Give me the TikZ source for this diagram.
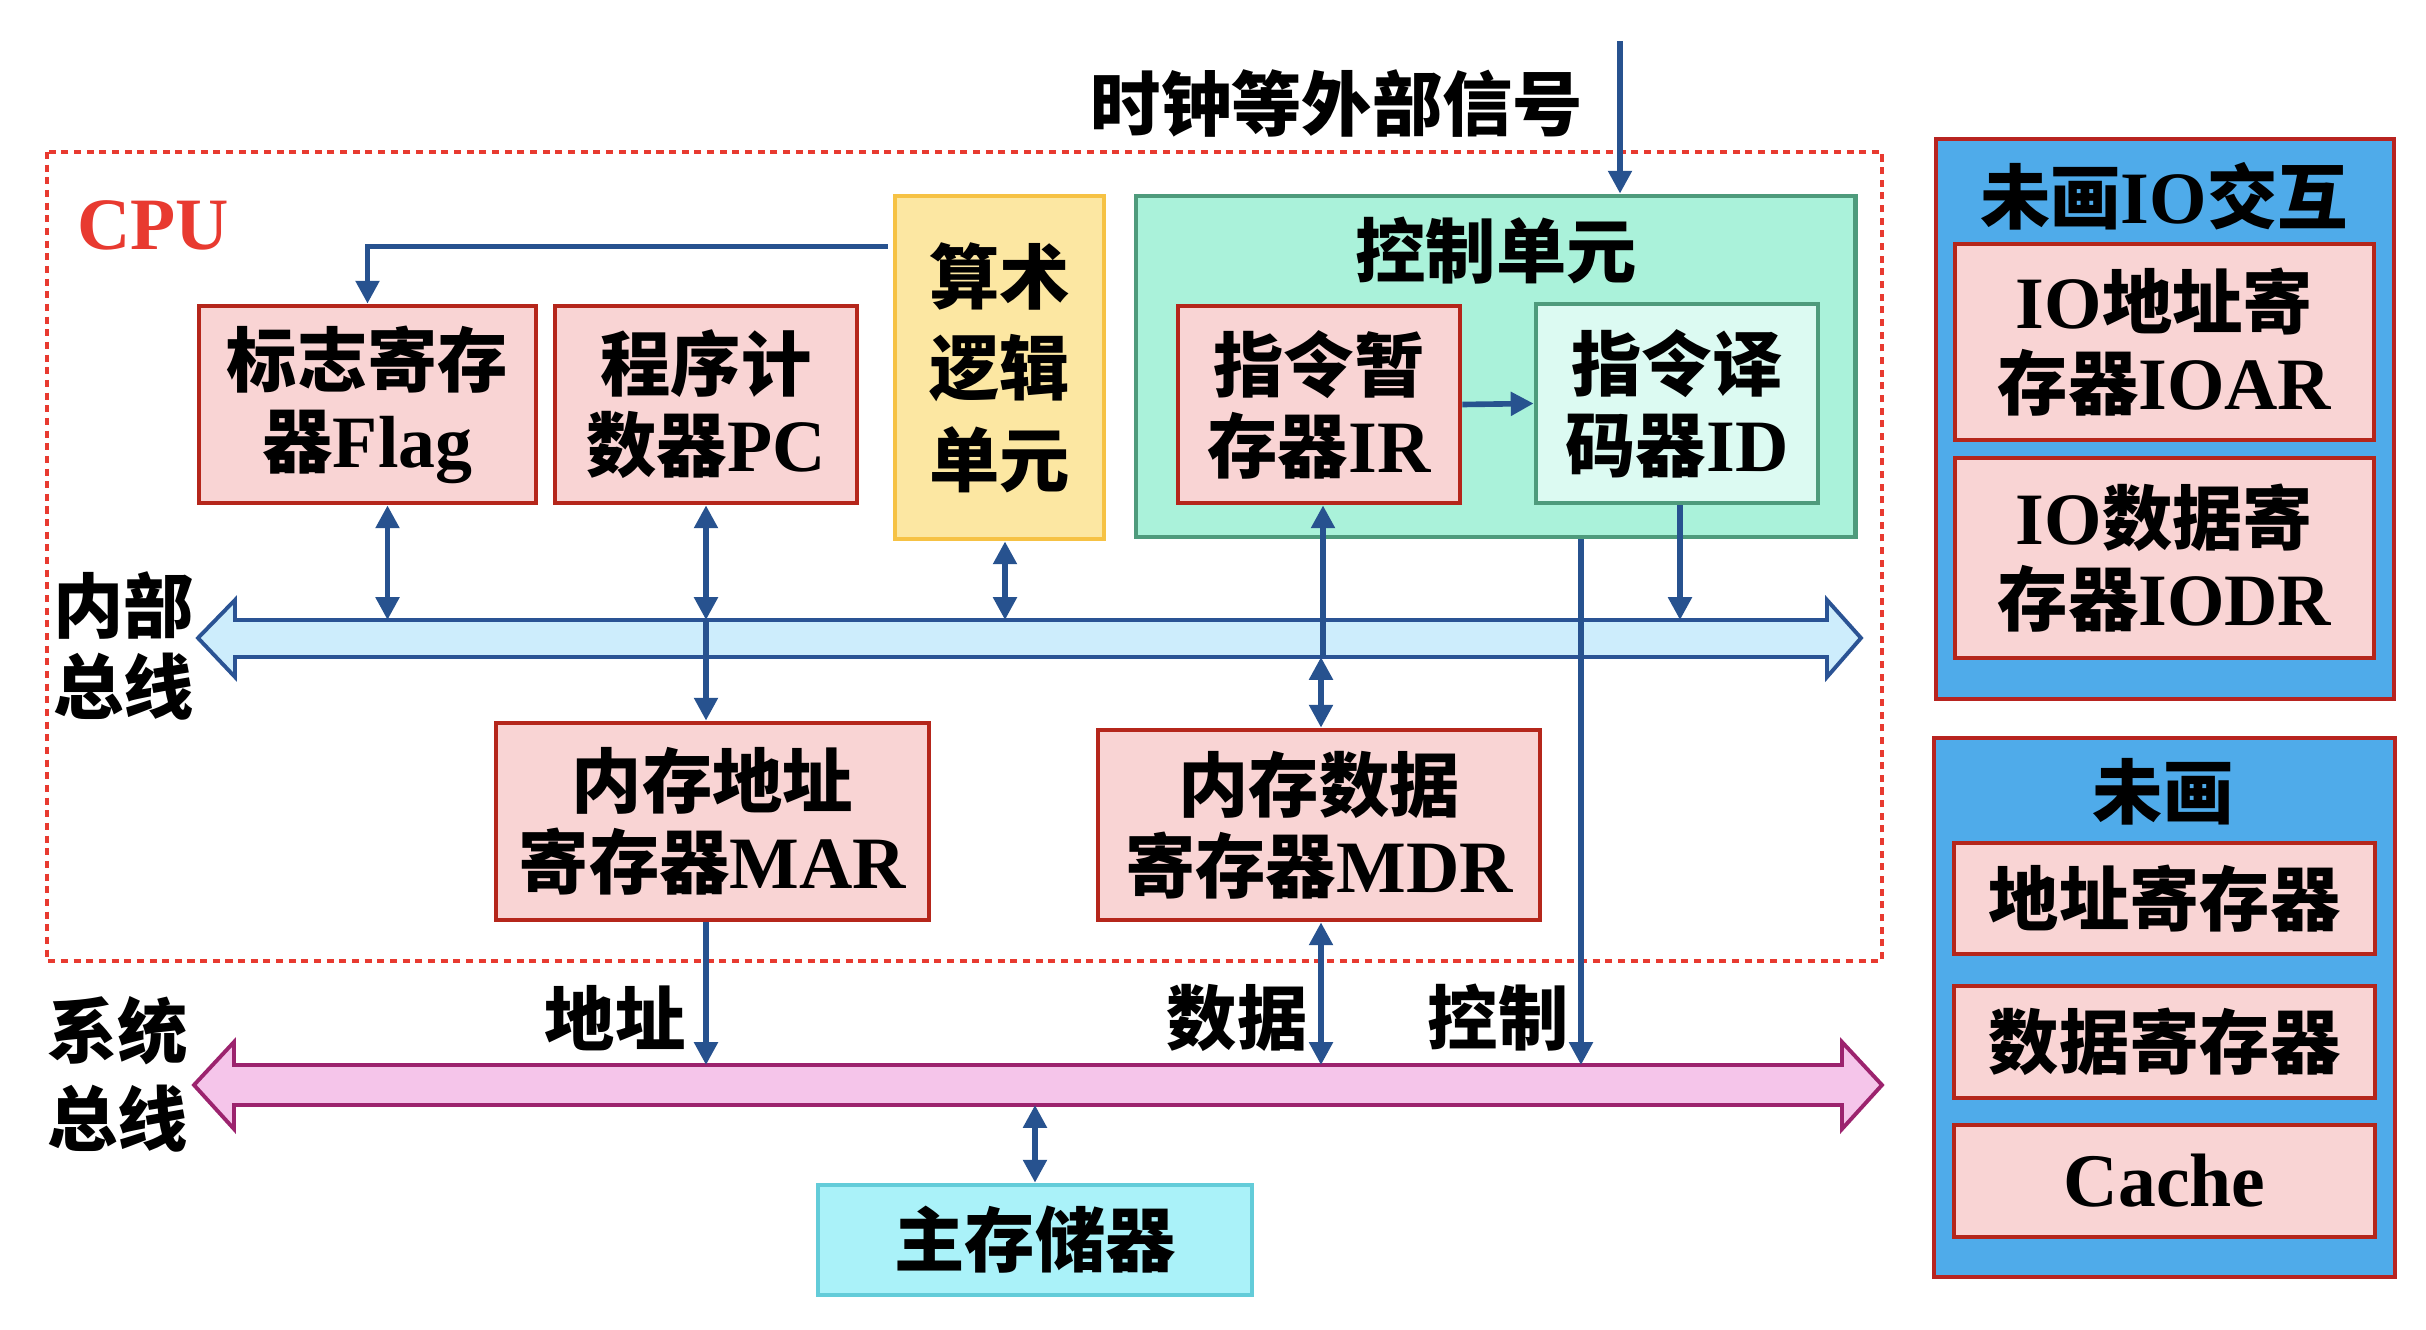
\documentclass[tikz,border=0pt]{standalone}
\usepackage{fontspec}
\setmainfont{Liberation Serif}[Scale=1.05]
\newfontfamily\cjk{Noto Sans CJK SC}
\usetikzlibrary{arrows.meta,calc}
\newcommand\zh[1]{{\cjk #1}}
\newcommand\txtfont{\fontsize{20pt}{23pt}\selectfont\bfseries}
\definecolor{boxred}{HTML}{B5261B}
\definecolor{pinkfill}{HTML}{F9D4D4}
\definecolor{alufill}{HTML}{FCE7A2}
\definecolor{aluborder}{HTML}{F6C244}
\definecolor{ctrlfill}{HTML}{AAF2DA}
\definecolor{ctrlborder}{HTML}{4E9B7C}
\definecolor{idfill}{HTML}{DCFAF2}
\definecolor{ibfill}{HTML}{CDEDFC}
\definecolor{busblue}{HTML}{2A5394}
\definecolor{sbfill}{HTML}{F5C5EA}
\definecolor{sbborder}{HTML}{9C236E}
\definecolor{memfill}{HTML}{AAF2F9}
\definecolor{memborder}{HTML}{63CCD9}
\definecolor{panelfill}{HTML}{4FABEA}
\definecolor{panelborder}{HTML}{B82420}
\definecolor{arrblue}{HTML}{27528F}
\definecolor{cpured}{HTML}{E83A30}
\begin{document}
\begin{tikzpicture}[x=0.01cm,y=-0.01cm,
  base/.style={inner sep=0pt, align=center, font=\txtfont},
  regbox/.style={base, draw=boxred, fill=pinkfill, line width=1.3pt},
  lbl/.style={base, text=black},
  arr/.style={draw=arrblue, line width=1.6pt, -{Triangle[length=6.5pt,width=6.5pt]}},
  arrtwo/.style={draw=arrblue, line width=1.6pt, {Triangle[length=6.5pt,width=6.5pt]}-{Triangle[length=6.5pt,width=6.5pt]}}
]
\useasboundingbox[fill=white] (0,0) rectangle (2426,1330);

% CPU dotted frame
\draw[cpured, line width=1.3pt, dash pattern=on 2pt off 1.6pt] (47,152) rectangle (1882,961);
\node[base, text=cpured, font=\fontsize{20pt}{24pt}\selectfont\bfseries] (cpu) at (153,225) {CPU};

% internal bus
\draw[busblue, line width=1.1pt, fill=ibfill] (198,638) -- (235,600) -- (235,620) -- (1827,620) -- (1827,600) -- (1861,638) -- (1827,677) -- (1827,657) -- (235,657) -- (235,677) -- cycle;
\coordinate (ibT) at (0,620);
\coordinate (ibB) at (0,657);
% system bus
\draw[sbborder, line width=1.1pt, fill=sbfill] (194,1085) -- (234,1042) -- (234,1065) -- (1842,1065) -- (1842,1042) -- (1882,1085) -- (1842,1129) -- (1842,1105) -- (234,1105) -- (234,1129) -- cycle;
\coordinate (sbT) at (0,1065);
\coordinate (sbB) at (0,1105);

% boxes
\node[regbox, minimum width=3.37cm, minimum height=1.97cm] (flag) at (367.5,404.5) {\zh{标志寄存}\\\zh{器}Flag};
\node[regbox, minimum width=3.02cm, minimum height=1.97cm] (pc) at (706,404.5) {\zh{程序计}\\\zh{数器}PC};
\node[base, draw=aluborder, fill=alufill, line width=1.3pt, minimum width=2.09cm, minimum height=3.43cm, font=\fontsize{20pt}{26pt}\selectfont\bfseries] (alu) at (999.5,367.5) {\zh{算术}\\\zh{逻辑}\\\zh{单元}};
\node[base, draw=ctrlborder, fill=ctrlfill, line width=1.3pt, minimum width=7.19cm, minimum height=3.41cm] (ctrl) at (1495.5,366.5) {};
\node[lbl] (ctrltitle) at (1496,251) {\zh{控制单元}};
\node[regbox, minimum width=2.82cm, minimum height=1.97cm] (ir) at (1319,404.5) {\zh{指令暂}\\\zh{存器}IR};
\node[base, draw=ctrlborder, fill=idfill, line width=1.3pt, minimum width=2.82cm, minimum height=1.99cm] (id) at (1677,403.5) {\zh{指令译}\\\zh{码器}ID};
\node[regbox, minimum width=4.33cm, minimum height=1.97cm] (mar) at (712.5,821.5) {\zh{内存地址}\\\zh{寄存器}MAR};
\node[regbox, minimum width=4.42cm, minimum height=1.90cm] (mdr) at (1319,825) {\zh{内存数据}\\\zh{寄存器}MDR};
\node[base, draw=memborder, fill=memfill, line width=1.3pt, minimum width=4.34cm, minimum height=1.10cm] (mem) at (1035,1240) {\zh{主存储器}};

% right panels
\node[base, draw=panelborder, fill=panelfill, line width=1.3pt, minimum width=4.58cm, minimum height=5.60cm] (panelA) at (2165,419) {};
\node[lbl] (panelAtitle) at (2164,196) {\zh{未画}IO\zh{交互}};
\node[regbox, minimum width=4.19cm, minimum height=1.96cm] (ioar) at (2164.5,342) {IO\zh{地址寄}\\\zh{存器}IOAR};
\node[regbox, minimum width=4.19cm, minimum height=2.00cm] (iodr) at (2164.5,558) {IO\zh{数据寄}\\\zh{存器}IODR};
\node[base, draw=panelborder, fill=panelfill, line width=1.3pt, minimum width=4.61cm, minimum height=5.39cm] (panelB) at (2164.5,1007.5) {};
\node[lbl] (panelBtitle) at (2163,792) {\zh{未画}};
\node[regbox, minimum width=4.21cm, minimum height=1.11cm] (rA) at (2164.5,898.5) {\zh{地址寄存器}};
\node[regbox, minimum width=4.21cm, minimum height=1.12cm] (rB) at (2164.5,1042) {\zh{数据寄存器}};
\node[regbox, minimum width=4.21cm, minimum height=1.12cm, font=\fontsize{20.5pt}{24pt}\selectfont\bfseries] (rC) at (2164.5,1181) {Cache};

% labels
\node[lbl] (clklbl) at (1337,104) {\zh{时钟等外部信号}};
\node[lbl] (ibl) at (124,646) {\zh{内部}\\\zh{总线}};
\node[lbl] (sbl) at (118,1074) {\zh{系统}\\[2pt]\zh{总线}};
\node[lbl] (ladr) at (615,1018) {\zh{地址}};
\node[lbl] (ldat) at (1237,1018) {\zh{数据}};
\node[lbl] (lctl) at (1498,1018) {\zh{控制}};

% connectors
\coordinate (clk) at (1620,41);
\coordinate (ctlout) at ($(ctrl.south)+(85.5,0)$);
\draw[arr] (clk) -- (clk |- ctrl.north);
\draw[arr] ($(alu.north west)+(-5,53)$) -| (flag.north);
\draw[arrtwo] ([xshift=0.2cm]flag.south) -- ([xshift=0.2cm]flag.south |- ibT);
\draw[arrtwo] (pc.south) -- (pc.south |- ibT);
\draw[arr] (pc.south |- ibT) -- (pc.south |- mar.north);
\draw[arrtwo] ([xshift=0.055cm]alu.south) -- ([xshift=0.055cm]alu.south |- ibT);
\draw[arr] ([xshift=0.04cm]ir.south |- ibB) -- ([xshift=0.04cm]ir.south);
\draw[arrtwo] ([xshift=0.02cm]mdr.north) -- ([xshift=0.02cm]mdr.north |- ibB);
\draw[arr] (ir.east) -- (id.west);
\draw[arr] ([xshift=0.03cm]id.south) -- ([xshift=0.03cm]id.south |- ibT);
\draw[arr] (ctlout) -- (ctlout |- sbT);
\draw[arr] (pc.south |- mar.south) -- (pc.south |- sbT);
\draw[arrtwo] ([xshift=0.02cm]mdr.south) -- ([xshift=0.02cm]mdr.south |- sbT);
\draw[arrtwo] (mem.north) -- (mem.north |- sbB);
\end{tikzpicture}
\end{document}
